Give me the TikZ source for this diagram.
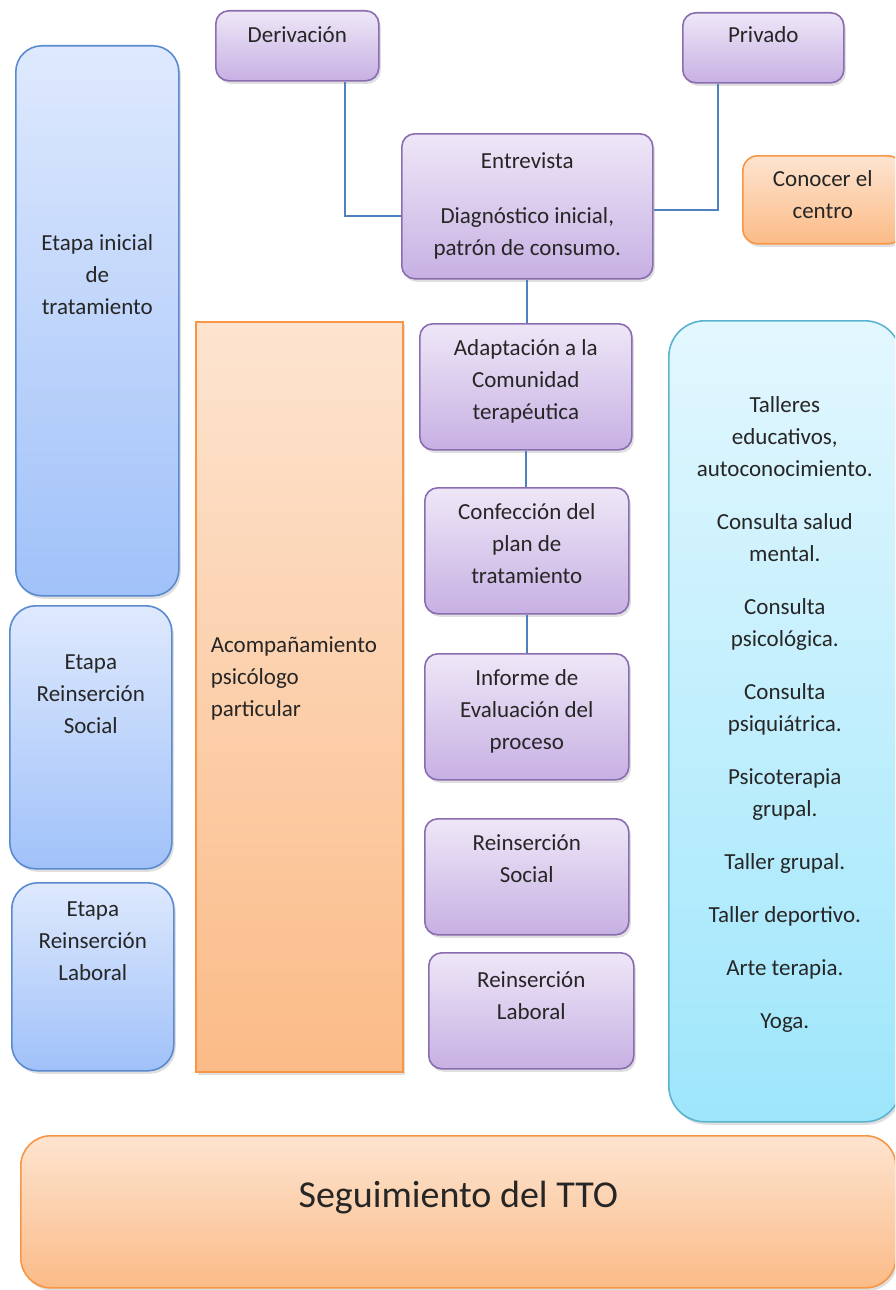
\documentclass[tikz,border=0pt]{standalone}
\usepackage{fontspec}
\setmainfont{Carlito}
\usetikzlibrary{shadows}
\definecolor{lilaline}{HTML}{8A6DB0}
\definecolor{lilatop}{HTML}{EEE7F7}
\definecolor{lilabot}{HTML}{C7B0E3}
\definecolor{azulline}{HTML}{5A8AD0}
\definecolor{azultop}{HTML}{DEE9FD}
\definecolor{azulbot}{HTML}{A0C1F9}
\definecolor{narline}{HTML}{F79646}
\definecolor{nartop}{HTML}{FDE4D0}
\definecolor{narbot}{HTML}{FBBB87}
\definecolor{celline}{HTML}{5AB4D0}
\definecolor{celtop}{HTML}{E3F7FE}
\definecolor{celbot}{HTML}{9EE6FB}
\definecolor{linkblue}{HTML}{4F81BD}
\tikzset{base/.style={anchor=north west,line width=1.6pt,inner ysep=0pt,align=center,text=black!85,
           font=\fontsize{23}{32}\selectfont,
           drop shadow={opacity=0.25,shadow xshift=2pt,shadow yshift=-3pt}},
         lila/.style={base,rounded corners=13pt,draw=lilaline,top color=lilatop,bottom color=lilabot},
         azul/.style={base,rounded corners=26pt,draw=azulline,top color=azultop,bottom color=azulbot},
         naranja/.style={base,draw=narline,top color=nartop,bottom color=narbot},
         celeste/.style={base,rounded corners=36pt,draw=celline,top color=celtop,bottom color=celbot},
         link/.style={draw=linkblue,line width=1.8pt}}

\begin{document}
\begin{tikzpicture}[x=1pt,y=-1pt]
\useasboundingbox (0,0) rectangle (895,1290);
\clip (0,0) rectangle (895,1290);
% column of stages
\node[azul, minimum width=163pt, text height=269pt, text depth=281pt] (ini) at (15,45) {Etapa inicial\\de\\tratamiento};
\node[azul, minimum width=162pt, text height=128pt, text depth=135pt] (ers) at (9,605) {Etapa\\Reinserción\\Social};
\node[azul, minimum width=162pt, text height=98pt, text depth=90pt] (erl) at (11,882) {Etapa\\Reinserción\\Laboral};
\node[naranja, minimum width=207pt, text width=177pt, inner xsep=15pt, align=left, text height=331pt, text depth=419pt] (aco) at (195,321) {Acompañamiento\\psicólogo\\particular};
% entry
\node[lila, minimum width=163pt, text height=32pt, text depth=38pt] (der) at (215,10) {Derivación};
\node[lila, minimum width=161pt, text height=30pt, text depth=40pt] (pri) at (682,12) {Privado};
\node[lila, minimum width=251pt, text height=122pt, text depth=23pt] (ent) at (401,133) {Entrevista\\[23pt]Diagnóstico inicial,\\patrón de consumo.};
\node[naranja, rounded corners=15pt, minimum width=160pt, text height=63pt, text depth=25pt] (cen) at (742,155) {Conocer el\\centro};
% process
\node[lila, minimum width=212pt, text height=96pt, text depth=30pt] (ada) at (419,323) {Adaptación a la\\Comunidad\\terapéutica};
\node[lila, minimum width=204pt, text height=96pt, text depth=30pt] (con) at (424,487) {Confección del\\plan de\\tratamiento};
\node[lila, minimum width=204pt, text height=96pt, text depth=30pt] (inf) at (424,653) {Informe de\\Evaluación del\\proceso};
\node[lila, minimum width=204pt, text height=64pt, text depth=52pt] (rso) at (424,818) {Reinserción\\Social};
\node[lila, minimum width=205pt, text height=67pt, text depth=49pt] (rla) at (428,952) {Reinserción\\Laboral};
% activities
\node[celeste, minimum width=232pt, text height=708pt, text depth=93pt] (tal) at (668,320)
  {Talleres\\educativos,\\autoconocimiento.\\[21pt]Consulta salud\\mental.\\[21pt]Consulta\\psicológica.\\[21pt]Consulta\\psiquiátrica.\\[21pt]Psicoterapia\\grupal.\\[21pt]Taller grupal.\\[21pt]Taller deportivo.\\[21pt]Arte terapia.\\[21pt]Yoga.};
\node[naranja, rounded corners=30pt, minimum width=875pt, font=\fontsize{38}{44}\selectfont, text height=72pt, text depth=80pt] (seg) at (20,1135) {Seguimiento del TTO};
% connectors
\draw[link] ([xshift=48pt]der.south) |- ([yshift=-10pt]ent.west);
\draw[link] ([xshift=-45pt]pri.south) |- ([yshift=-4pt]ent.east);
\draw[link] (ent.south) -- (ent.south |- ada.north);
\draw[link] (ada.south) -- (ada.south |- con.north);
\draw[link] (con.south) -- (con.south |- inf.north);
\end{tikzpicture}
\end{document}
